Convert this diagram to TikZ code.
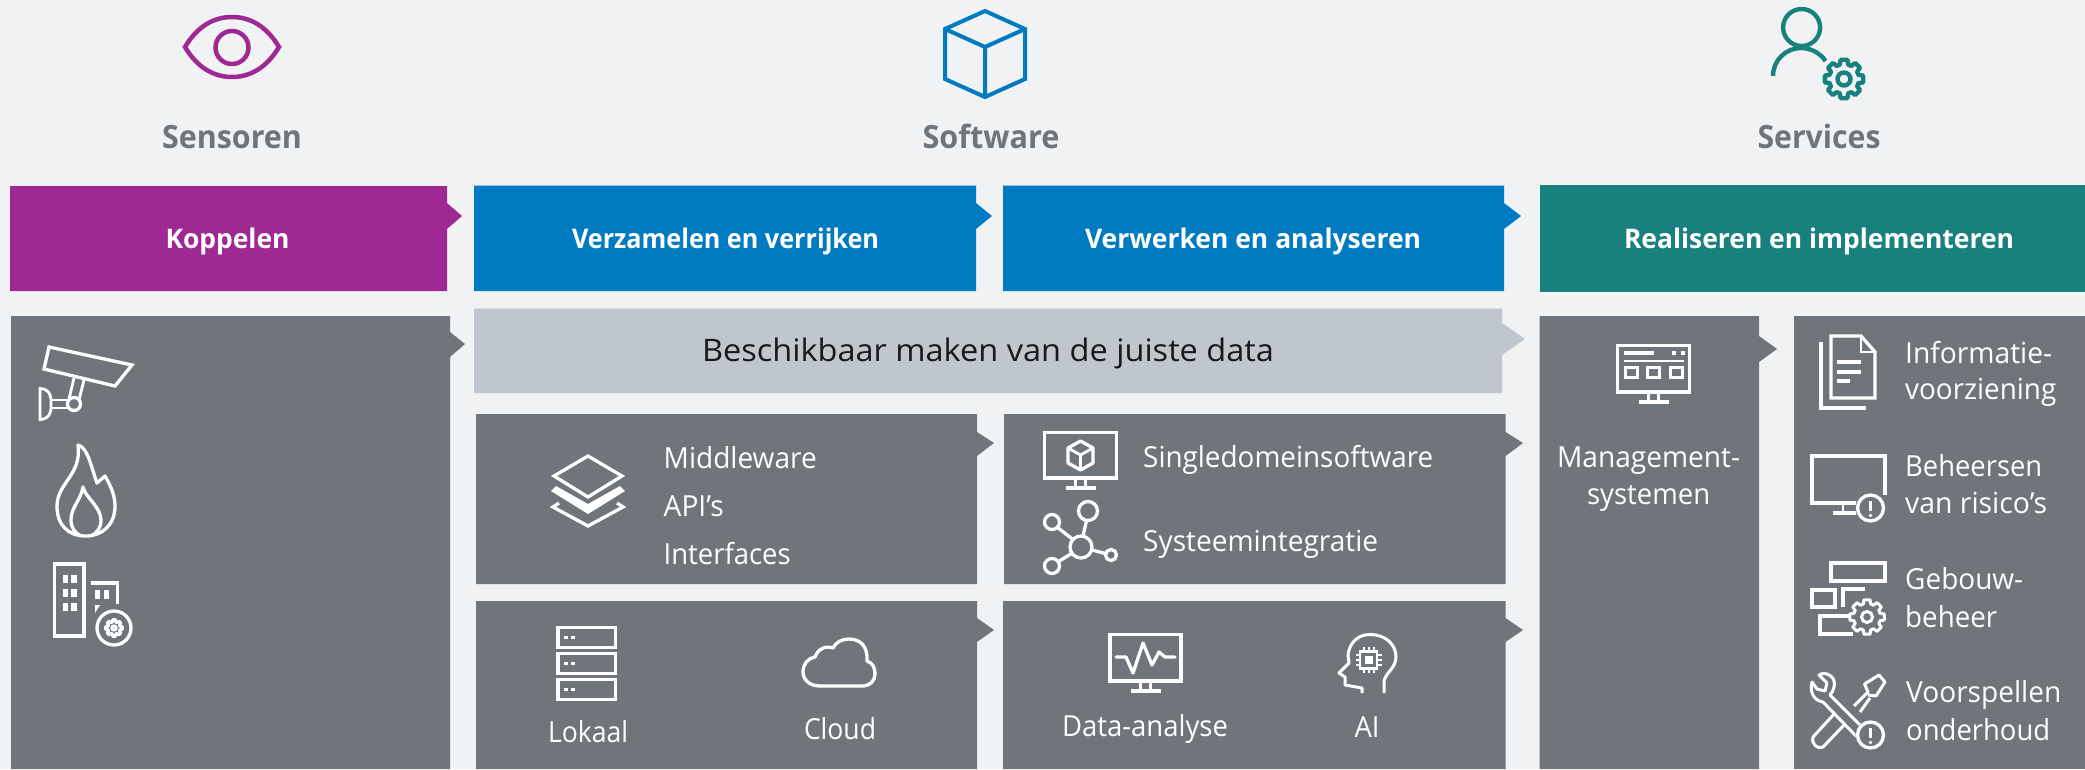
\documentclass[tikz,border=0pt]{standalone}
\usepackage{fontspec}
\usepackage{graphicx}
\setmainfont{Open Sans}
\definecolor{bgc}{HTML}{F0F2F4}
\definecolor{grayp}{HTML}{70757B}
\definecolor{purp}{HTML}{9E2993}
\definecolor{bluep}{HTML}{007AC1}
\definecolor{tealp}{HTML}{19817D}
\definecolor{lightp}{HTML}{BFC6CD}
\newcommand\tw[2]{\resizebox{#1pt}{\height}{#2}}
% panel with notch: colour, x1,y1,x2,y2, notch top, tip x, tip y, notch bottom
\newcommand\panel[9]{\fill[#1] (#2,#3) -- (#4,#3) -- (#4,#6) -- (#7,#8) -- (#4,#9) -- (#4,#5) -- (#2,#5) -- cycle;}
\newcommand\monitor[4]{%
  \draw[ico] (#1,#2) rectangle (#3,#4);
  \pgfmathsetmacro\mc{(#1+#3)/2}
  \draw[ico,line width=2.8pt] (\mc-5,#4) -- (\mc-5,#4+10) (\mc+5,#4) -- (\mc+5,#4+10);
  \draw[ico] (\mc-15,#4+10) -- (\mc+15,#4+10);}
\newcommand\gearshape[7]{% cx cy R r hole colour lw
  \begin{scope}[shift={(#1,#2)}]
  \draw[#6,line width=#7pt,line join=round] (-10:#3) \foreach \a in {0,45,...,315}{ -- (\a-10:#3) -- (\a+10:#3) -- (\a+16:#4) -- (\a+29:#4)} -- cycle;
  \draw[#6,line width=#7pt] (0,0) circle (#5);
  \end{scope}}
\newcommand\alert[2]{%
  \fill[grayp] (#1,#2) circle (15);
  \draw[ico] (#1,#2) circle (13);
  \draw[ico] (#1,#2-7) -- (#1,#2+3);
  \fill[white] (#1,#2+7.5) circle (1.8);}
\tikzset{
  x=1pt,y=-1pt,
  ico/.style={draw=white,line width=3.3pt,line join=miter},
  body/.style={text=white,inner sep=0pt,anchor=base,font=\fontsize{29}{31}\selectfont},
  bodyl/.style={body,anchor=base west},
  head/.style={text=white,inner sep=0pt,anchor=base,font=\fontsize{27}{29}\selectfont\bfseries},
  cat/.style={text=grayp,inner sep=0pt,anchor=base,font=\fontsize{32}{34}\selectfont\bfseries},
}
\begin{document}
\begin{tikzpicture}
\useasboundingbox (0,0) rectangle (2085,769);
\fill[bgc] (0,0) rectangle (2085,769);

% headers
\panel{purp}{10}{186}{447}{291}{203}{462}{216}{229}
\panel{bluep}{474}{185.5}{976}{291}{203}{992}{216}{229}
\panel{bluep}{1003}{185.5}{1504}{291}{203}{1521}{216}{229}
\fill[tealp] (1540,185) rectangle (2085,292);
\node[head] (h1) at (227.5,248) {\tw{124}{Koppelen}};
\node[head] (h2) at (725.5,248) {\tw{307}{Verzamelen en verrijken}};
\node[head] (h3) at (1253,248) {\tw{336}{Verwerken en analyseren}};
\node[head] (h4) at (1819,248) {\tw{390}{Realiseren en implementeren}};

% categories
\node[cat] (c1) at (232,148) {\tw{140}{Sensoren}};
\node[cat] (c2) at (991,148) {\tw{137}{Software}};
\node[cat] (c3) at (1819,148) {\tw{123}{Services}};

% eye
\draw[purp,line width=4.5pt] (185,47) .. controls (197,27) and (213,17) .. (232,17) .. controls (251,17) and (267,27) .. (279,47) .. controls (267,67) and (251,77) .. (232,77) .. controls (213,77) and (197,67) .. (185,47) -- cycle;
\draw[purp,line width=4.5pt] (232,47.5) circle (16.5);
% cube
\draw[bluep,line width=4pt,line join=miter] (985,11) -- (1025,29) -- (1025,79) -- (985,97) -- (945,79) -- (945,29) -- cycle;
\draw[bluep,line width=4pt,line join=miter] (945,29) -- (985,47) -- (1025,29) (985,47) -- (985,97);
% person + gear
\draw[tealp,line width=4.4pt] (1801.6,27.5) ellipse (18.5 and 18.5);
\draw[tealp,line width=4.4pt] (1773,76) .. controls (1773,60) and (1786,48) .. (1801,48) .. controls (1811,48) and (1820,53) .. (1825.5,61);
\gearshape{1844}{79}{19.5}{15}{6.5}{tealp}{4.4}

% panels
\panel{grayp}{11}{316}{450}{769}{332}{465}{344}{357}
\panel{lightp}{474}{308.5}{1502}{393}{323}{1525}{339}{355}
\panel{grayp}{476}{414}{977}{584}{432}{994}{443}{456}
\panel{grayp}{476}{601}{977}{769}{618}{994}{630}{642}
\panel{grayp}{1004}{414}{1505.5}{584}{432}{1523}{443}{456}
\panel{grayp}{1003}{601}{1505.5}{769}{618}{1523}{630}{642}
\panel{grayp}{1539.5}{316}{1759}{769}{336}{1777}{349}{362}
\fill[grayp] (1794,316) rectangle (2085,769);

\node[text=black!90,inner sep=0pt,anchor=base,font=\fontsize{31}{33}\selectfont] (bar) at (988,361) {\tw{572}{Beschikbaar maken van de juiste data}};

% --- left panel icons
\draw[ico] (49,347) -- (132,365) -- (115,386) -- (44,369) -- cycle;
\draw[ico,line width=2.8pt] (74,378) -- (69,399) (84,380) -- (79,400);
\draw[ico,line width=2.8pt] (40,388.5) -- (40,419.5) .. controls (48,419) and (50,415) .. (51,409) -- (51,399) .. controls (50,393) and (48,389) .. (40,388.5) -- cycle;
\draw[ico,line width=2.8pt] (51,400) -- (69,400) (51,408) -- (68,408);
\draw[ico] (74,404) circle (6.5);
% flame
\draw[ico,line join=round] (78,445) .. controls (88,447) and (92,470) .. (97,483) -- (105,476) .. controls (112,488) and (115,497) .. (115,506) .. controls (115,525) and (102,536) .. (86,536) .. controls (68,536) and (57,525) .. (57,506) .. controls (57,483) and (82,475) .. (78,445) -- cycle;
\draw[ico,line join=round] (81,536) .. controls (75,533) and (71,528) .. (71,520) .. controls (71,507) and (81,500) .. (83,487) .. controls (85,497) and (101,507) .. (101,520) .. controls (101,528) and (97,533) .. (91,536);
% buildings
\draw[ico] (54.5,564) rectangle (84,636);
\foreach \yy in {575,589,603}{\fill[white] (63,\yy) rectangle (68,\yy+8); \fill[white] (71,\yy) rectangle (76.5,\yy+8);}
\draw[ico] (91,583) -- (117.5,583) -- (117.5,604);
\fill[white] (95,590) rectangle (100,599); \fill[white] (104,590) rectangle (109,599);
\fill[white] (95,605) -- (100,605) -- (95,613) -- cycle;
\draw[ico] (114,628) circle (17);
\gearshape{114}{628}{8.5}{6}{2.2}{white}{2.8}

% --- middleware
\draw[ico] (588,456) -- (622,476) -- (588,497) -- (554,476) -- cycle;
\fill[white] (556,486) -- (588,504) -- (620,486) -- (625,491) -- (588,514) -- (551,491) -- cycle;
\draw[ico] (559,503) -- (553,507) -- (588,526) -- (623,507) -- (617,503);
\node[bodyl] (m1) at (663.5,468) {\tw{153}{Middleware}};
\node[bodyl] (m2) at (663.5,516) {\tw{60}{API’s}};
\node[bodyl] (m3) at (663.5,564) {\tw{127}{Interfaces}};

% --- servers
\foreach \yy in {627.5,653.5,679.5}{
  \draw[ico] (558,\yy) rectangle (615.5,\yy+20);
  \fill[white] (564,\yy+8) rectangle (567.5,\yy+11.5);
  \fill[white] (571,\yy+8) rectangle (574.5,\yy+11.5);
}
\node[body] (lok) at (588,742) {\tw{80}{Lokaal}};
% cloud
\draw[ico,line join=round] (820,686) .. controls (810,686) and (803,680) .. (803,672) .. controls (803,664) and (808,658) .. (815,657) .. controls (817,650) and (825,645) .. (833,648) .. controls (836,642) and (842,639) .. (849,639) .. controls (860,639) and (868,646) .. (867,661) .. controls (873,663) and (875,668) .. (875,674) .. controls (875,681) and (870,686) .. (862,686) -- cycle;
\node[body] (clo) at (840,739) {\tw{72}{Cloud}};

% --- single domain / integration
\monitor{1044.5}{432.5}{1116.5}{478}
\draw[ico,line join=round] (1080.5,441) -- (1093,448) -- (1093,463) -- (1080.5,470) -- (1068,463) -- (1068,448) -- cycle;
\draw[ico,line width=2.8pt] (1068,448) -- (1080.5,455) -- (1093,448) (1080.5,455) -- (1080.5,470);
\node[bodyl] (s1) at (1143,467) {\tw{290}{Singledomeinsoftware}};
\draw[ico] (1081,547) circle (11);
\draw[ico] (1088,511) circle (9.5);
\draw[ico] (1052,522) circle (7.5);
\draw[ico] (1052,566) circle (7.5);
\draw[ico] (1111,555) circle (5.5);
\draw[ico] (1083,536) -- (1086.5,520.5) (1057.5,527.5) -- (1073,539.5) (1058.5,561.5) -- (1071.5,553.5) (1092,550) -- (1105.5,553.5);
\node[bodyl] (s2) at (1143,551) {\tw{235}{Systeemintegratie}};

% --- data-analyse / AI
\monitor{1110}{634.5}{1181}{681}
\draw[ico,line join=round,line cap=round] (1116,657) -- (1126,657) -- (1133,673) -- (1143,643) -- (1152,665) -- (1159,652) -- (1165,657) -- (1175,657);
\node[body] (d1) at (1145,736) {\tw{166}{Data-analyse}};
\draw[ico,line join=round,line width=3pt] (1384,693) -- (1384,681) .. controls (1386,672) and (1396,668) .. (1396,657) .. controls (1396,644) and (1385,634.5) .. (1370,634.5) .. controls (1356,634.5) and (1349,645) .. (1348,655) -- (1349,663) -- (1339,673) -- (1345,677) -- (1345,685) -- (1362,688) -- (1362,693);
\draw[ico,line width=2.8pt] (1360,651.5) rectangle (1377,668.5);
\fill[white] (1364.5,655.5) rectangle (1372.5,664);
\foreach \dd in {-5,0,5}{
  \draw[ico,line width=2pt] (1368.5+\dd,647) -- (1368.5+\dd,651) (1368.5+\dd,669) -- (1368.5+\dd,673) (1355.5,660+\dd) -- (1359.5,660+\dd) (1377.5,660+\dd) -- (1381.5,660+\dd);}
\node[body] (ai) at (1367,737) {\tw{25}{AI}};

% --- management
\monitor{1617.5}{345.5}{1689.5}{392}
\draw[ico,line width=3.6pt] (1624,353) -- (1654,353);
\fill[white] (1672,351) rectangle (1676,355); \fill[white] (1681,351) rectangle (1685,355);
\draw[ico,line width=2.4pt] (1624,361) -- (1684,361);
\foreach \xx in {1625.5,1647.5,1670.5}{\draw[ico,line width=3pt] (\xx,367.5) rectangle (\xx+12,377.5);}
\node[body] (mg1) at (1648.6,467) {\tw{183}{Management-}};
\node[body] (mg2) at (1648.6,504) {\tw{123}{systemen}};

% --- doc
\draw[ico] (1831,336) -- (1861,336) -- (1875,352) -- (1875,398) -- (1831,398) -- cycle;
\draw[ico,line width=2.2pt] (1861,336) -- (1861,352) -- (1875,352);
\draw[ico] (1837,362) -- (1861,362) (1837,372) -- (1861,372) (1837,381) -- (1850,381);
\draw[ico] (1821,342) -- (1821,408) -- (1866,408);
\node[bodyl] (i1) at (1905,363) {\tw{147}{Informatie-}};
\node[bodyl] (i2) at (1905,399) {\tw{151}{voorziening}};

% --- risk monitor
\draw[ico] (1885,495) -- (1885,456) -- (1812,456) -- (1812,503) -- (1856,503);
\draw[ico,line width=2.8pt] (1843,503) -- (1843,513);
\draw[ico] (1833,513) -- (1856,513);
\alert{1870.5}{508}
\node[bodyl] (b1) at (1905,476) {\tw{137}{Beheersen}};
\node[bodyl] (b2) at (1905,513) {\tw{142}{van risico’s}};

% --- gebouwbeheer
\draw[ico] (1831,563) rectangle (1885,581);
\draw[ico] (1812,590) rectangle (1835,607);
\draw[ico] (1843,607) -- (1843,589) -- (1865,589);
\draw[ico] (1850,616) -- (1820,616) -- (1820,634) -- (1853,634);
\fill[grayp] (1867,617) circle (16);
\gearshape{1867}{617}{17.5}{13.5}{5.5}{white}{3}
\node[bodyl] (g1) at (1905,589) {\tw{118}{Gebouw-}};
\node[bodyl] (g2) at (1905,627) {\tw{92}{beheer}};

% --- tools
\draw[ico,line join=round,line width=3pt] (1819,675) -- (1827,683) -- (1825,691) -- (1817,689) -- (1812,682) .. controls (1809,693) and (1815,701) .. (1823,702) -- (1857,737) -- (1864,729) -- (1830,695) .. controls (1836,688) and (1836,678) .. (1829,675) .. controls (1826,673) and (1822,673) .. (1819,675) -- cycle;
\draw[ico,line join=round,line width=3pt] (1854,706) -- (1868,692) -- (1864.5,684) -- (1879,675) -- (1885,682) -- (1876,696) -- (1868,695);
\draw[ico,line join=round,line width=3pt] (1860,712) -- (1870,698);
\draw[ico,line join=round,line width=3pt] (1835,713) -- (1813,737) .. controls (1811,744) and (1818,750) .. (1823,747) -- (1845,724);
\alert{1870.5}{735}
\node[bodyl] (v1) at (1906,702) {\tw{155}{Voorspellen}};
\node[bodyl] (v2) at (1906,740) {\tw{144}{onderhoud}};
\end{tikzpicture}
\end{document}
